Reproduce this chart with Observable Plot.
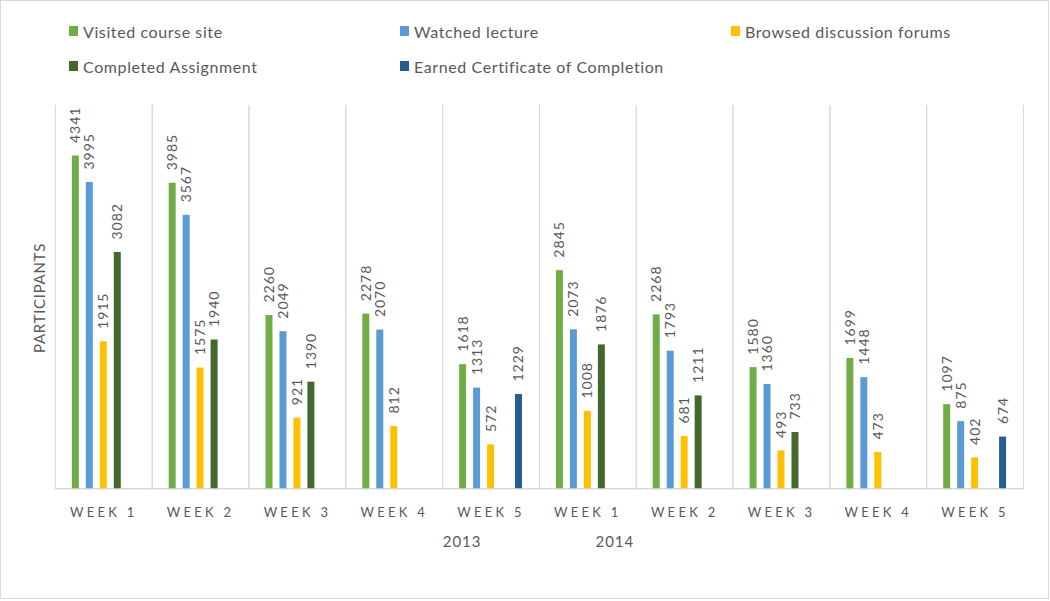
<!DOCTYPE html>
<html>
<head>
<meta charset="utf-8">
<script src="https://cdn.jsdelivr.net/npm/d3@7"></script>
<script src="https://cdn.jsdelivr.net/npm/@observablehq/plot@0.6"></script>
<style>
  html, body { margin: 0; padding: 0; background: #fff; }
  body { font-family: Lato, sans-serif; color: #595959; }
  #chart { position: relative; width: 1047px; height: 597px; border: 1px solid #d9d9d9; overflow: hidden; }
  .leg { position: absolute; display: flex; align-items: center; font-size: 16px; letter-spacing: 0.6px; white-space: nowrap; color: #595959; }
  .leg .sw { width: 9px; height: 10px; margin-right: 5px; }
  #ytitle { position: absolute; left: 38px; top: 297px; transform: translate(-50%, -50%) rotate(-90deg); font-size: 15px; letter-spacing: 0.7px; color: #595959; white-space: nowrap; }
  #plot { position: absolute; left: -1px; top: 84px; }
  #plot [aria-label="fx-axis tick label"] text { letter-spacing: 3.3px; }
  #plot [aria-label="text"] text { letter-spacing: 1px; }
</style>
</head>
<body>
<div id="chart">
  <div id="legend"></div>
  <div id="ytitle">PARTICIPANTS</div>
  <div id="plot"></div>
</div>
<script>
const weeks = ["WEEK 1", "WEEK 2", "WEEK 3", "WEEK 4", "WEEK 5"];
const years = ["2013", "2014"];
const series = ["Visited course site", "Watched lecture", "Browsed discussion forums", "Completed Assignment", "Earned Certificate of Completion"];
const colors = ["#70AD47", "#5B9BD5", "#FFC000", "#43682B", "#255E91"];
// values per series, order: 2013 W1..W5, 2014 W1..W5
const visited   = [4341, 3985, 2260, 2278, 1618, 2845, 2268, 1580, 1699, 1097];
const watched   = [3995, 3567, 2049, 2070, 1313, 2073, 1793, 1360, 1448, 875];
const browsed   = [1915, 1575, 921, 812, 572, 1008, 681, 493, 473, 402];
const completed = [3082, 1940, 1390, null, null, 1876, 1211, 733, null, null];
const earned    = [null, null, null, null, 1229, null, null, null, null, 674];

const seriesValues = [visited, watched, browsed, completed, earned];
const groups = [];
years.forEach(y => weeks.forEach(w => groups.push(y + "|" + w)));

const data = [];
groups.forEach((g, gi) => {
  series.forEach((s, si) => {
    const v = seriesValues[si][gi];
    if (v != null) data.push({group: g, series: s, value: v});
  });
});

const yearLabels = [
  {group: years[0] + "|" + weeks[4], series: series[0], text: years[0]},
  {group: years[1] + "|" + weeks[0], series: series[4], text: years[1]}
];

// legend
const leg = d3.select("#legend");
const colX = [68, 399, 730];
const rowY = [30, 65];
series.forEach((s, i) => {
  const item = leg.append("div").attr("class", "leg")
    .style("left", colX[i % 3] + "px")
    .style("top", (rowY[Math.floor(i / 3)] - 12) + "px")
    .style("height", "24px");
  item.append("div").attr("class", "sw").style("background", colors[i]);
  item.append("span").text(s);
});

const font = 'Lato, sans-serif';

const chart = Plot.plot({
  width: 1050,
  height: 513,
  marginTop: 20,
  marginBottom: 109,
  marginLeft: 53,
  marginRight: 24,
  style: {fontFamily: font, fontSize: "14px", color: "#595959", background: "transparent"},
  fx: {domain: groups, padding: 0, label: null},
  x: {domain: series, paddingInner: 0.468, paddingOuter: 1.18, axis: null},
  y: {domain: [0, 5000], axis: null},
  color: {domain: series, range: colors},
  marks: [
    Plot.frame({anchor: "left", stroke: "#d9d9d9"}),
    Plot.frame({anchor: "right", stroke: "#d9d9d9"}),
    Plot.ruleY([0], {stroke: "#d9d9d9", strokeWidth: 1.5}),
    Plot.barY(data, {fx: "group", x: "series", y: "value", fill: "series"}),
    Plot.text(data, {fx: "group", x: "series", y: "value", text: d => String(d.value),
      rotate: -90, textAnchor: "start", dy: -13, fill: "#595959", fontSize: 14}),
    Plot.axisFx({anchor: "bottom", tickSize: 0, tickPadding: 19, fontSize: 13, label: null,
      tickFormat: d => d.split("|")[1], fill: "#595959"}),
    Plot.text(yearLabels, {fx: "group", x: "series", frameAnchor: "bottom", text: "text",
      dy: 58, dx: -1, fill: "#595959", fontSize: 15})
  ]
});
document.getElementById("plot").appendChild(chart);
</script>
</body>
</html>
